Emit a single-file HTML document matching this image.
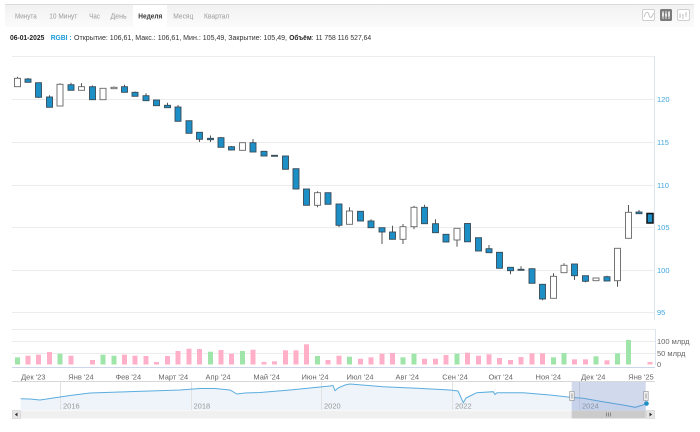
<!DOCTYPE html>
<html><head><meta charset="utf-8"><style>
html,body{margin:0;padding:0;background:#fff;}
svg{display:block;font-family:"Liberation Sans","DejaVu Sans",sans-serif;}
</style></head><body>
<svg width="700" height="432" viewBox="0 0 700 432" xmlns="http://www.w3.org/2000/svg">
<defs>
<linearGradient id="tb" x1="0" y1="0" x2="0" y2="1"><stop offset="0" stop-color="#f1f1f1"/><stop offset="1" stop-color="#fbfbfb"/></linearGradient>
</defs>
<rect width="700" height="432" fill="#fff"/>
<!-- tab bar -->
<rect x="5" y="4" width="689" height="23" fill="url(#tb)"/>
<line x1="5" y1="4.5" x2="694" y2="4.5" stroke="#dcdcdc"/>
<rect x="133" y="5" width="34" height="22" fill="#fff"/>
<g font-size="7.3" fill="#9a9a9a">
<text x="15" y="18.5" textLength="21.7" lengthAdjust="spacingAndGlyphs">Минута</text>
<text x="49.3" y="18.5" textLength="28" lengthAdjust="spacingAndGlyphs">10 Минут</text>
<text x="89.3" y="18.5" textLength="10.7" lengthAdjust="spacingAndGlyphs">Час</text>
<text x="110.5" y="18.5" textLength="16.2" lengthAdjust="spacingAndGlyphs">День</text>
<text x="138.3" y="18.5" textLength="24" lengthAdjust="spacingAndGlyphs" fill="#333" font-weight="bold">Неделя</text>
<text x="173.3" y="18.5" textLength="20" lengthAdjust="spacingAndGlyphs">Месяц</text>
<text x="204" y="18.5" textLength="25.3" lengthAdjust="spacingAndGlyphs">Квартал</text>
</g>
<!-- icons -->
<rect x="642.5" y="9.5" width="12" height="11" rx="1.5" fill="#fff" stroke="#cfcfcf"/>
<path d="M644 17 C646 11,648 11,649 15 S652 18,653.5 13" fill="none" stroke="#bbb" stroke-width="0.9"/>
<rect x="660" y="9" width="12" height="12" rx="1.5" fill="#7a7a7a"/>
<path d="M663 11V19M666 11V19M669 11V19" stroke="#fff" stroke-width="0.8"/>
<rect x="662.2" y="12.5" width="1.6" height="4" fill="#fff"/><rect x="665.2" y="13.5" width="1.6" height="3" fill="#fff"/><rect x="668.2" y="12" width="1.6" height="4.5" fill="#fff"/>
<rect x="677.5" y="9.5" width="12" height="11" rx="1.5" fill="#fff" stroke="#cfcfcf"/>
<path d="M680 13V18M680 16H681M683 14V19M682 15H683M686 12V17M686 14H687" stroke="#bbb" stroke-width="0.8" fill="none"/>
<!-- info line -->
<g font-size="7" fill="#333">
<text x="10" y="40" textLength="34.3" lengthAdjust="spacingAndGlyphs" font-weight="bold" fill="#222">06-01-2025</text>
<text x="50.7" y="40" textLength="21" lengthAdjust="spacingAndGlyphs" font-weight="bold" fill="#1a9ad6">RGBI :</text>
<text x="74" y="40" textLength="213" lengthAdjust="spacingAndGlyphs">Открытие: 106,61, Макс.: 106,61, Мин.: 105,49, Закрытие: 105,49,</text>
<text x="289.3" y="40" textLength="22.4" lengthAdjust="spacingAndGlyphs" font-weight="bold" fill="#222">Объём</text>
<text x="311.7" y="40" textLength="59.5" lengthAdjust="spacingAndGlyphs">: 11 758 116 527,64</text>
</g>
<!-- main grid -->
<g stroke="#ececec" stroke-width="1">
<line x1="12" y1="56.5" x2="654" y2="56.5"/>
<line x1="12" y1="99.5" x2="654" y2="99.5"/>
<line x1="12" y1="142.5" x2="654" y2="142.5"/>
<line x1="12" y1="185.5" x2="654" y2="185.5"/>
<line x1="12" y1="227.5" x2="654" y2="227.5"/>
<line x1="12" y1="270.5" x2="654" y2="270.5"/>
<line x1="12" y1="312.5" x2="654" y2="312.5"/>
<line x1="12" y1="329.5" x2="655" y2="329.5"/>
<line x1="12" y1="341.5" x2="655" y2="341.5"/>
<line x1="12" y1="353.5" x2="655" y2="353.5"/>
</g>
<line x1="654.5" y1="56" x2="654.5" y2="320" stroke="#dbe4ef"/>
<line x1="655.5" y1="329" x2="655.5" y2="365" stroke="#dbe4ef"/>
<g font-size="7.5" fill="#3ea5dc">
<text x="657" y="102">120</text>
<text x="657" y="145">115</text>
<text x="657" y="188">110</text>
<text x="657" y="230">105</text>
<text x="657" y="273">100</text>
<text x="657" y="315">95</text>
</g>
<g font-size="7.5" fill="#666">
<text x="657" y="344">100 млрд</text>
<text x="657" y="356">50 млрд</text>
<text x="657" y="367">0</text>
</g>
<!-- wicks -->
<path fill="none" stroke="#555" stroke-width="1" d="M17.5 76.7V87M28 78V82.5M38.5 82.7V98M49.5 95.3V107.5M60 83.3V106M71 82.7V90.5M81.5 83.3V90.5M92.5 85.5V100M103 88.3V100M114 86.5V89M124.5 84.7V92.5M135 91.5V96.5M146 93.3V101M156.5 100V106M167.5 102.7V108M178 105V121.5M189 120.5V133.5M199.5 132V142M210.5 135.5V142M221 137V147.5M231.5 146V150.5M242.5 142.5V150.5M253 139V152.3M264 151V156.3M274.5 155V156.5M285.5 156V169.5M296 168.5V189.3M306.5 189V205.5M317.5 191.3V207.3M328 192.5V204.5M339 204V227.3M349.5 207.3V224.5M360.5 211V221.3M371 219.3V228M382 227.5V244M392.5 225.7V239.5M403 224V244M414 205.7V229.3M424.5 204.7V224M435.5 219.3V233M446 234V242.3M457 228V246.7M467.5 223.3V242M478.5 237.5V251.3M489 245V253M499.5 252V268.5M510.5 267V274.3M521 266.3V270.5M532 268.5V283.5M542.5 284V300.3M553.5 273.3V298.5M564 263.3V273M574.5 264V280M585.5 275.5V282.3M596 277.5V281M607 275.7V281.3M617.5 248V286.7M628.5 205V238.5M639 210V214M650 213.3V223.3"/>
<!-- up candles -->
<g fill="#fff" stroke="#666" stroke-width="0.9">
<rect x="14.5" y="78.3" width="6" height="8.4"/>
<rect x="57" y="84.3" width="6" height="21.7"/>
<rect x="78.5" y="86.7" width="6" height="3.6"/>
<rect x="100" y="88.3" width="6" height="11.4"/>
<rect x="111" y="87.3" width="6" height="1.4"/>
<rect x="239.5" y="142.7" width="6" height="7.6"/>
<rect x="314.5" y="192.7" width="6" height="12.6"/>
<rect x="346.5" y="211" width="6" height="13.3"/>
<rect x="400" y="226.7" width="6" height="12.6"/>
<rect x="411" y="207.3" width="6" height="19.4"/>
<rect x="454" y="228.3" width="6" height="11.7"/>
<rect x="550.5" y="276.3" width="6" height="22"/>
<rect x="561" y="265.3" width="6" height="7.4"/>
<rect x="593" y="278" width="6" height="2.7"/>
<rect x="614.5" y="248.3" width="6" height="32.4"/>
<rect x="625.5" y="212.3" width="6" height="26"/>
</g>
<!-- down candles -->
<g fill="#1c8fc7" stroke="#3a4a55" stroke-width="0.9">
<rect x="25" y="79" width="6" height="3.3"/>
<rect x="35.5" y="82.7" width="6" height="14.6"/>
<rect x="46.5" y="97" width="6" height="10.3"/>
<rect x="68" y="84.7" width="6" height="5.6"/>
<rect x="89.5" y="86.7" width="6" height="13"/>
<rect x="121.5" y="86.7" width="6" height="5.6"/>
<rect x="132" y="92.3" width="6" height="4"/>
<rect x="143" y="95.7" width="6" height="5"/>
<rect x="153.5" y="100" width="6" height="5.7"/>
<rect x="164.5" y="105.3" width="6" height="2.4"/>
<rect x="175" y="107" width="6" height="14.3"/>
<rect x="186" y="120.7" width="6" height="12.6"/>
<rect x="196.5" y="132.3" width="6" height="7"/>
<rect x="207.5" y="138.3" width="6" height="1.4"/>
<rect x="218" y="137.7" width="6" height="9.6"/>
<rect x="228.5" y="146.7" width="6" height="3.3"/>
<rect x="250" y="142.7" width="6" height="9.3"/>
<rect x="261" y="151.3" width="6" height="4.7"/>
<rect x="271.5" y="155.3" width="6" height="1"/>
<rect x="282.5" y="156" width="6" height="13.3"/>
<rect x="293" y="168.7" width="6" height="20.3"/>
<rect x="303.5" y="189" width="6" height="16.3"/>
<rect x="325" y="192.7" width="6" height="11.6"/>
<rect x="336" y="204" width="6" height="21.3"/>
<rect x="357.5" y="211.3" width="6" height="9.7"/>
<rect x="368" y="221" width="6" height="6.7"/>
<rect x="379" y="227.7" width="6" height="4.3"/>
<rect x="389.5" y="232" width="6" height="7.3"/>
<rect x="421.5" y="207.3" width="6" height="16.4"/>
<rect x="432.5" y="223.7" width="6" height="9"/>
<rect x="443" y="234.3" width="6" height="7.7"/>
<rect x="464.5" y="223.5" width="6" height="18.3"/>
<rect x="475.5" y="237.7" width="6" height="13.3"/>
<rect x="486" y="248.7" width="6" height="4"/>
<rect x="496.5" y="252.3" width="6" height="16"/>
<rect x="507.5" y="267.3" width="6" height="3.4"/>
<rect x="518" y="269.3" width="6" height="1"/>
<rect x="529" y="268.7" width="6" height="14.6"/>
<rect x="539.5" y="284.3" width="6" height="14.7"/>
<rect x="571.5" y="264" width="6" height="11.7"/>
<rect x="582.5" y="275.7" width="6" height="5.6"/>
<rect x="604" y="276.7" width="6" height="4.3"/>
<rect x="636" y="212" width="6" height="1.7"/>
<rect x="647" y="213.5" width="6" height="9.5" stroke="#111" stroke-width="1.5"/>
</g>
<!-- volume -->
<g fill="#9fe5aa">
<rect x="15" y="357.3" width="5" height="7.2"/>
<rect x="57.5" y="353.7" width="5" height="10.8"/>
<rect x="100.5" y="354.7" width="5" height="9.8"/>
<rect x="111.5" y="355.7" width="5" height="8.8"/>
<rect x="208" y="351.7" width="5" height="12.8"/>
<rect x="240" y="351" width="5" height="13.5"/>
<rect x="315" y="356" width="5" height="8.5"/>
<rect x="347" y="356.7" width="5" height="7.8"/>
<rect x="400.5" y="357.3" width="5" height="7.2"/>
<rect x="411.5" y="353.7" width="5" height="10.8"/>
<rect x="454.5" y="353.7" width="5" height="10.8"/>
<rect x="551" y="357.3" width="5" height="7.2"/>
<rect x="561.5" y="353" width="5" height="11.5"/>
<rect x="593.5" y="356.3" width="5" height="8.2"/>
<rect x="615" y="353.3" width="5" height="11.2"/>
<rect x="626" y="340" width="5" height="24.5"/>
</g>
<g fill="#ffb0c8">
<rect x="25.5" y="355.7" width="5" height="8.8"/>
<rect x="36" y="354.7" width="5" height="9.8"/>
<rect x="47" y="352" width="5" height="12.5"/>
<rect x="68.5" y="355.7" width="5" height="8.8"/>
<rect x="90" y="360" width="5" height="4.5"/>
<rect x="122" y="354.7" width="5" height="9.8"/>
<rect x="132.5" y="355.7" width="5" height="8.8"/>
<rect x="143.5" y="356" width="5" height="8.5"/>
<rect x="154" y="362" width="5" height="2.5"/>
<rect x="165" y="356" width="5" height="8.5"/>
<rect x="175.5" y="351" width="5" height="13.5"/>
<rect x="186.5" y="348.7" width="5" height="15.8"/>
<rect x="197" y="349" width="5" height="15.5"/>
<rect x="218.5" y="350" width="5" height="14.5"/>
<rect x="229" y="353.7" width="5" height="10.8"/>
<rect x="250.5" y="349.7" width="5" height="14.8"/>
<rect x="261.5" y="362" width="5" height="2.5"/>
<rect x="272" y="361.3" width="5" height="3.2"/>
<rect x="283" y="350.3" width="5" height="14.2"/>
<rect x="293.5" y="350.3" width="5" height="14.2"/>
<rect x="304" y="344.3" width="5" height="20.2"/>
<rect x="325.5" y="360" width="5" height="4.5"/>
<rect x="336.5" y="355.7" width="5" height="8.8"/>
<rect x="358" y="358.7" width="5" height="5.8"/>
<rect x="368.5" y="357.3" width="5" height="7.2"/>
<rect x="379.5" y="353.7" width="5" height="10.8"/>
<rect x="390" y="353" width="5" height="11.5"/>
<rect x="422" y="358.7" width="5" height="5.8"/>
<rect x="433" y="358.7" width="5" height="5.8"/>
<rect x="443.5" y="355" width="5" height="9.5"/>
<rect x="465" y="352.7" width="5" height="11.8"/>
<rect x="476" y="355.7" width="5" height="8.8"/>
<rect x="486.5" y="354.3" width="5" height="10.2"/>
<rect x="497" y="358" width="5" height="6.5"/>
<rect x="508" y="360" width="5" height="4.5"/>
<rect x="518.5" y="357" width="5" height="7.5"/>
<rect x="529.5" y="353.3" width="5" height="11.2"/>
<rect x="540" y="353.3" width="5" height="11.2"/>
<rect x="572" y="359.3" width="5" height="5.2"/>
<rect x="583" y="359.3" width="5" height="5.2"/>
<rect x="604.5" y="360.3" width="5" height="4.2"/>
<rect x="647.5" y="362" width="5" height="2.5"/>
</g>
<!-- x axis -->
<line x1="12" y1="367.5" x2="655" y2="367.5" stroke="#ccd6eb"/>
<g font-size="7.5" fill="#666" text-anchor="middle">
<text x="33.3" y="379.5">Дек '23</text>
<text x="81" y="379.5">Янв '24</text>
<text x="128.3" y="379.5">Фев '24</text>
<text x="173.3" y="379.5">Март '24</text>
<text x="218" y="379.5">Апр '24</text>
<text x="266.7" y="379.5">Май '24</text>
<text x="315" y="379.5">Июн '24</text>
<text x="360" y="379.5">Июл '24</text>
<text x="407.3" y="379.5">Авг '24</text>
<text x="455" y="379.5">Сен '24</text>
<text x="500.7" y="379.5">Окт '24</text>
<text x="548.3" y="379.5">Ноя '24</text>
<text x="593.3" y="379.5">Дек '24</text>
<text x="641" y="379.5">Янв '25</text>
</g>
<!-- navigator -->
<line x1="12" y1="381.5" x2="655" y2="381.5" stroke="#d8d8d8"/>
<path fill="#eef4fa" d="M20.7 398.7L30 399L40 400L50 398.5L60 397L70 395.5L90 393L120 392L150 391L180 390L200 388.5L215 388.5L230 390L237 394L245 393L260 392.5L290 390L310 388L330 386L333 385.5L335 390.7L338 388L345 385L350 384L383 386.7L416.7 388.3L450 390L458 391L463.3 402.7L466 398L470 396L476.7 392.7L493.3 391.7L495 394.5L497 392.7L523 392.7L550 395L570 397.3L583 398.3L603 401.7L623 405L635 407.3L643 405L646 403.3L646 410L20.7 410Z"/>
<g stroke="#e2e2e2">
<line x1="60.5" y1="382" x2="60.5" y2="410"/>
<line x1="191.5" y1="382" x2="191.5" y2="410"/>
<line x1="321.5" y1="382" x2="321.5" y2="410"/>
<line x1="452.5" y1="382" x2="452.5" y2="410"/>
<line x1="579.5" y1="382" x2="579.5" y2="410"/>
</g>
<path fill="none" stroke="#5badde" stroke-width="1" d="M20.7 398.7L30 399L40 400L50 398.5L60 397L70 395.5L90 393L120 392L150 391L180 390L200 388.5L215 388.5L230 390L237 394L245 393L260 392.5L290 390L310 388L330 386L333 385.5L335 390.7L338 388L345 385L350 384L383 386.7L416.7 388.3L450 390L458 391L463.3 402.7L466 398L470 396L476.7 392.7L493.3 391.7L495 394.5L497 392.7L523 392.7L550 395L570 397.3L583 398.3L603 401.7L623 405L635 407.3L643 405L646 403.3"/>
<g font-size="7.5" fill="#999">
<text x="63" y="408.5">2016</text>
<text x="193.5" y="408.5">2018</text>
<text x="324" y="408.5">2020</text>
<text x="455" y="408.5">2022</text>
<text x="582" y="408.5">2024</text>
</g>
<rect x="571.7" y="382" width="74" height="28.5" fill="rgba(102,133,194,0.3)"/>
<circle cx="646.5" cy="403.5" r="2.3" fill="#1c8fc7"/>
<!-- scrollbar -->
<rect x="12" y="410.5" width="643" height="8" fill="#f0f0f0"/>
<rect x="12.5" y="410.5" width="8" height="8" fill="#e6e6e6" stroke="#d0d0d0" stroke-width="0.6"/>
<path d="M17.5 412.5L14.8 414.5L17.5 416.5Z" fill="#333"/>
<rect x="646.5" y="410.5" width="8" height="8" fill="#e6e6e6" stroke="#d0d0d0" stroke-width="0.6"/>
<path d="M649.5 412.5L652.2 414.5L649.5 416.5Z" fill="#333"/>
<rect x="571.7" y="410.5" width="74" height="8" fill="#cbcbcb"/>
<path d="M606.5 412.5V416.5M608.5 412.5V416.5M610.5 412.5V416.5" stroke="#777" stroke-width="0.8"/>
<!-- handles -->
<rect x="569.7" y="391.5" width="4.5" height="9" fill="#f2f2f2" stroke="#999" stroke-width="0.7"/>
<path d="M571.3 393.5V398.5M572.7 393.5V398.5" stroke="#999" stroke-width="0.5"/>
<rect x="643.7" y="391.5" width="4.5" height="9" fill="#f2f2f2" stroke="#999" stroke-width="0.7"/>
<path d="M645.3 393.5V398.5M646.7 393.5V398.5" stroke="#999" stroke-width="0.5"/>
</svg>
</body></html>
